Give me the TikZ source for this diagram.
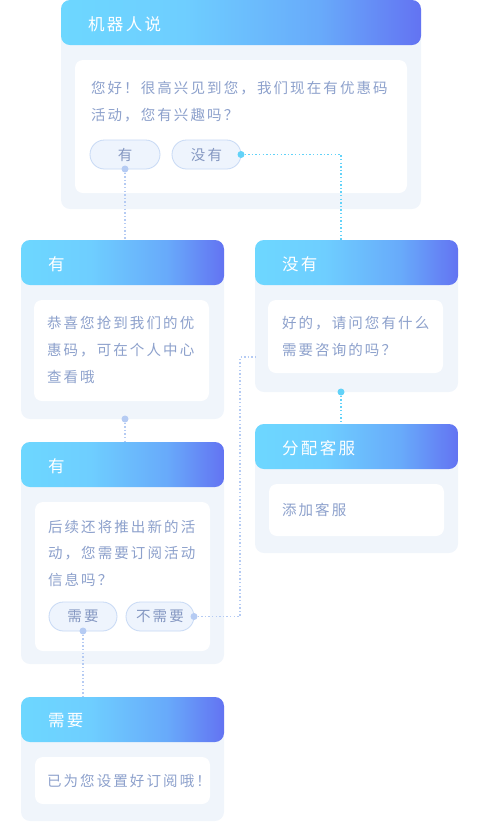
\documentclass[tikz,border=0pt]{standalone}
\usepackage{fontspec}
\newfontfamily\cjk[LetterSpace=14.5]{Noto Sans CJK SC}
\usetikzlibrary{positioning,calc}
\definecolor{cardbg}{HTML}{F0F5FB}
\definecolor{hdrA}{HTML}{6DD7FF}
\definecolor{hdrB}{HTML}{6ECEFF}
\definecolor{hdrC}{HTML}{68AAFA}
\definecolor{hdrD}{HTML}{6373F2}
\definecolor{txtblue}{HTML}{8DA1CC}
\definecolor{pilltxt}{HTML}{8598C2}
\definecolor{pillline}{HTML}{C7D9F5}
\definecolor{pillfill}{HTML}{EEF4FD}
\definecolor{dotblue}{HTML}{B5CBF3}
\definecolor{dotcyan}{HTML}{62D2F8}
\pgfdeclarehorizontalshading{hdrshade}{100bp}{color(0bp)=(hdrA); color(25bp)=(hdrA); color(42bp)=(hdrB); color(61bp)=(hdrC); color(75bp)=(hdrD); color(100bp)=(hdrD)}

\begin{document}
\begin{tikzpicture}[x=1pt, y=-1pt, every node/.style={inner sep=0, outer sep=0},
  card/.style={fill=cardbg, rounded corners=9pt, anchor=north west, minimum width=203pt,
    path picture={\shade[shading=hdrshade] (path picture bounding box.north west) rectangle ([yshift=-45pt]path picture bounding box.north east);}},
  msg/.style={fill=white, rounded corners=8pt, anchor=north west, minimum width=175pt},
  ttl/.style={text=white, font=\cjk\fontsize{16.5}{20}\selectfont},
  txt/.style={text=txtblue, align=left, font=\cjk\fontsize{14.5}{26.7}\selectfont},
  pill/.style={draw=pillline, line width=0.8pt, fill=pillfill, rounded corners=14.5pt, minimum width=69pt, minimum height=29pt, text=pilltxt, font=\cjk\fontsize{14.5}{17}\selectfont},
  link/.style={line width=1.4pt, dash pattern=on 1.4pt off 2.2pt}]
\useasboundingbox (0,0) rectangle (480,823);
% cards
\node[card, minimum width=360pt, minimum height=209pt] (c1) at (61,0) {};
\node[card, minimum height=179pt] (c2) at (21,240) {};
\node[card, minimum height=152pt] (c3) at (255,240) {};
\node[card, minimum height=129pt] (c4) at (255,424) {};
\node[card, minimum height=222pt] (c5) at (21,442) {};
\node[card, minimum height=124pt] (c6) at (21,697) {};
% titles
\node[ttl, right=27pt of c1.north west, yshift=-24pt] (h1) {机器人说};
\node[ttl, right=27pt of c2.north west, yshift=-24pt] (h2) {有};
\node[ttl, right=27pt of c3.north west, yshift=-24pt] (h3) {没有};
\node[ttl, right=27pt of c4.north west, yshift=-24pt] (h4) {分配客服};
\node[ttl, right=27pt of c5.north west, yshift=-24pt] (h5) {有};
\node[ttl, right=27pt of c6.north west, yshift=-24pt] (h6) {需要};
% message boxes
\node[msg, minimum width=332pt, minimum height=133pt, below right=60pt and 14pt of c1.north west] (m1) {};
\node[msg, minimum height=101pt, below right=60pt and 13pt of c2.north west] (m2) {};
\node[msg, minimum height=73pt, below right=60pt and 13pt of c3.north west] (m3) {};
\node[msg, minimum height=52pt, below right=60pt and 14pt of c4.north west] (m4) {};
\node[msg, minimum height=149pt, below right=60pt and 14pt of c5.north west] (m5) {};
\node[msg, minimum height=47pt, below right=60pt and 14pt of c6.north west] (m6) {};
% message texts (base = last line)
\node[txt, anchor=base west] (t1) at ($(m1.north west)+(16,60.5)$) {您好！很高兴见到您，我们现在有优惠码\\活动，您有兴趣吗？};
\node[txt, anchor=base west] (t2) at ($(m2.north west)+(13,82.2)$) {恭喜您抢到我们的优\\惠码，可在个人中心\\查看哦};
\node[txt, anchor=base west] (t3) at ($(m3.north west)+(14,55.5)$) {好的，请问您有什么\\需要咨询的吗？};
\node[txt, right=13pt of m4.west] (t4) {添加客服};
\node[txt, anchor=base west] (t5) at ($(m5.north west)+(13,83.4)$) {后续还将推出新的活\\动，您需要订阅活动\\信息吗？};
\node[txt, right=12pt of m6.west] (t6) {已为您设置好订阅哦！};
% answer buttons
\node[pill, minimum width=70pt] (p1) at ($(m1.north west)+(50,94.5)$) {有};
\node[pill, right=12pt of p1] (p2) {没有};
\node[pill, minimum width=68pt] (p3) at ($(m5.north west)+(48,114.5)$) {需要};
\node[pill, minimum width=68pt, right=9pt of p3] (p4) {不需要};
% links
\coordinate (c3in) at ([yshift=-41pt]c3.west);
\draw[link, dotblue] (p1.south) -- (p1.south |- c2.north);
\draw[link, dotcyan] (p2.east) -| ([xshift=-15.5pt]c3.north);
\draw[link, dotblue] ([xshift=2.5pt]c2.south) -- ([xshift=2.5pt]c2.south |- c5.north);
\draw[link, dotcyan] ([xshift=-15.5pt]c3.south) -- ([xshift=-15.5pt]c4.north);
\draw[link, dotblue] (p4.east) -- ++(46,0) |- (c3in);
\draw[link, dotblue] (p3.south) -- (p3.south |- c6.north);
\fill[dotblue] (p1.south) circle (3.5pt);
\fill[dotcyan] (p2.east) circle (3.5pt);
\fill[dotblue] ([xshift=2.5pt]c2.south) circle (3.5pt);
\fill[dotcyan] ([xshift=-15.5pt]c3.south) circle (3.5pt);
\fill[dotblue] (p4.east) circle (3.5pt);
\fill[dotblue] (p3.south) circle (3.5pt);
\end{tikzpicture}
\end{document}
